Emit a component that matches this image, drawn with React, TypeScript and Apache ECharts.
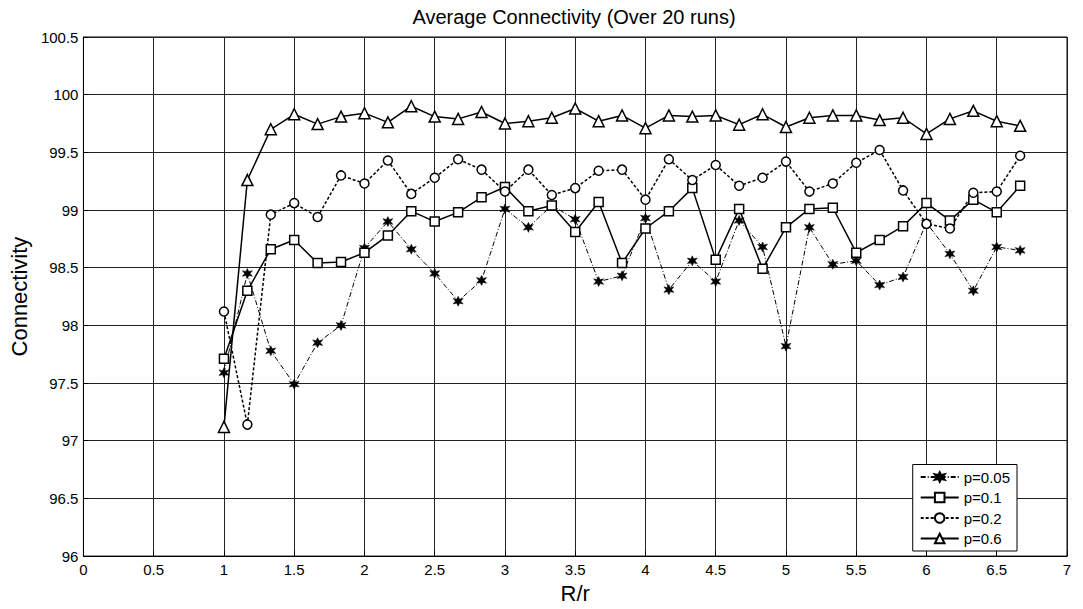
import React, { useEffect, useRef } from "react";
import * as echarts from "echarts";

const xValues: number[] = [
  1, 7 / 6, 8 / 6, 9 / 6, 10 / 6, 11 / 6, 2, 13 / 6, 14 / 6, 15 / 6, 16 / 6, 17 / 6,
  3, 19 / 6, 20 / 6, 21 / 6, 22 / 6, 23 / 6, 4, 25 / 6, 26 / 6, 27 / 6, 28 / 6, 29 / 6,
  5, 31 / 6, 32 / 6, 33 / 6, 34 / 6, 35 / 6, 6, 37 / 6, 38 / 6, 39 / 6, 40 / 6,
];

const p005: number[] = [
  97.59, 98.45, 97.78, 97.49, 97.85, 98.0, 98.67, 98.9, 98.66, 98.45, 98.21, 98.39,
  99.01, 98.85, 99.04, 98.92, 98.38, 98.43, 98.93, 98.31, 98.56, 98.38, 98.91, 98.68,
  97.82, 98.85, 98.53, 98.56, 98.35, 98.42, 98.89, 98.62, 98.3, 98.68, 98.65,
];

const p01: number[] = [
  97.71, 98.3, 98.66, 98.74, 98.54, 98.55, 98.63, 98.78, 98.99, 98.9, 98.98, 99.11,
  99.2, 98.99, 99.04, 98.81, 99.07, 98.54, 98.84, 98.99, 99.19, 98.57, 99.01, 98.49,
  98.85, 99.01, 99.02, 98.63, 98.74, 98.86, 99.06, 98.91, 99.09, 98.98, 99.21,
];

const p02: number[] = [
  98.12, 97.14, 98.96, 99.06, 98.94, 99.3, 99.23, 99.43, 99.14, 99.28, 99.44, 99.35,
  99.16, 99.35, 99.13, 99.19, 99.34, 99.35, 99.09, 99.44, 99.26, 99.39, 99.21, 99.28,
  99.42, 99.16, 99.23, 99.41, 99.52, 99.17, 98.88, 98.84, 99.15, 99.16, 99.47,
];

const p06: number[] = [
  97.12, 99.26, 99.7, 99.83, 99.745, 99.81, 99.84, 99.76, 99.9, 99.81, 99.79, 99.85,
  99.75, 99.77, 99.8, 99.88, 99.77, 99.82, 99.71, 99.82, 99.81, 99.82, 99.74, 99.83,
  99.72, 99.8, 99.82, 99.82, 99.78, 99.8, 99.66, 99.79, 99.86, 99.77, 99.73,
];

const seriesNames: string[] = ["p=0.05", "p=0.1", "p=0.2", "p=0.6"];

const STAR =
  "path://M50,0 L64,30 L98,22 L76,50 L98,78 L64,70 L50,100 L36,70 L2,78 L24,50 L2,22 L36,30 Z";

const FONT = "'Liberation Sans', Arial, sans-serif";

function pairs(ys: number[]): number[][] {
  return ys.map((y, i) => [xValues[i], y]);
}

export default function App() {
  const ref = useRef<HTMLDivElement>(null);

  useEffect(() => {
    document.body.style.margin = "0";
    if (!ref.current) return;
    const chart = echarts.init(ref.current, undefined, { renderer: "svg" });
    const hollow = { color: "#fff", borderColor: "#000", borderWidth: 1.5 };
    chart.setOption({
      animation: false,
      backgroundColor: "#fff",
      textStyle: { fontFamily: FONT, color: "#000" },
      title: {
        text: "Average Connectivity (Over 20 runs)",
        left: 574,
        textAlign: "center",
        top: 7,
        padding: 0,
        textStyle: { fontFamily: FONT, fontSize: 20, fontWeight: "normal", color: "#000" },
      },
      grid: {
        left: 81,
        right: 16,
        top: 37,
        bottom: 49,
        show: true,
        borderColor: "#000",
        borderWidth: 1,
        backgroundColor: "transparent",
      },
      legend: {
        orient: "vertical",
        right: 66,
        bottom: 58,
        backgroundColor: "#fff",
        borderColor: "#000",
        borderWidth: 1,
        borderRadius: 0,
        padding: [5, 7, 5, 7],
        itemWidth: 38,
        itemHeight: 12,
        itemGap: 5.5,
        textStyle: { fontFamily: FONT, fontSize: 15, color: "#000" },
        data: seriesNames,
      },
      xAxis: {
        type: "value",
        min: 0,
        max: 7,
        interval: 0.5,
        name: "R/r",
        nameLocation: "middle",
        nameGap: 24,
        nameTextStyle: { fontFamily: FONT, fontSize: 22, color: "#000" },
        axisLine: { show: true, lineStyle: { color: "#000", width: 1 } },
        axisTick: { show: true, inside: true, length: 5, lineStyle: { color: "#000" } },
        axisLabel: { fontFamily: FONT, fontSize: 15, color: "#000", margin: 6 },
        splitLine: { show: true, lineStyle: { color: "#222", width: 1 } },
      },
      yAxis: {
        type: "value",
        min: 96,
        max: 100.5,
        interval: 0.5,
        name: "Connectivity",
        nameLocation: "middle",
        nameGap: 51,
        nameTextStyle: { fontFamily: FONT, fontSize: 22, color: "#000" },
        axisLine: { show: true, lineStyle: { color: "#000", width: 1 } },
        axisTick: { show: true, inside: true, length: 5, lineStyle: { color: "#000" } },
        axisLabel: { fontFamily: FONT, fontSize: 15, color: "#000", margin: 5 },
        splitLine: { show: true, lineStyle: { color: "#222", width: 1 } },
      },
      series: [
        {
          name: seriesNames[0],
          type: "line",
          data: pairs(p005),
          symbol: STAR,
          symbolSize: 10,
          itemStyle: { color: "#000", borderColor: "#000", borderWidth: 0.5 },
          lineStyle: { color: "#000", width: 1, type: [5, 2, 1, 2] },
        },
        {
          name: seriesNames[1],
          type: "line",
          data: pairs(p01),
          symbol: "rect",
          symbolSize: 9,
          itemStyle: hollow,
          lineStyle: { color: "#000", width: 1.5, type: "solid" },
        },
        {
          name: seriesNames[2],
          type: "line",
          data: pairs(p02),
          symbol: "circle",
          symbolSize: 9,
          itemStyle: hollow,
          lineStyle: { color: "#000", width: 1.5, type: [3, 2] },
        },
        {
          name: seriesNames[3],
          type: "line",
          data: pairs(p06),
          symbol: "triangle",
          symbolSize: 11,
          itemStyle: hollow,
          lineStyle: { color: "#000", width: 1.5, type: "solid" },
        },
      ],
    });
    return () => chart.dispose();
  }, []);

  return <div ref={ref} style={{ width: 1083, height: 609 }} />;
}
